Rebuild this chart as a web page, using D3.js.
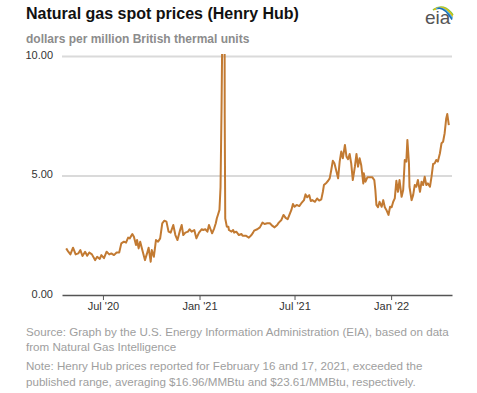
<!DOCTYPE html>
<html>
<head>
<meta charset="utf-8">
<script src="https://cdn.jsdelivr.net/npm/d3@7"></script>
<style>
  body { margin: 0; background: #fff; }
  text { font-family: "Liberation Sans", Arial, sans-serif; }
</style>
</head>
<body>
<svg id="chart" width="477" height="393"></svg>
<script>
// Henry Hub spot price, $/MMBtu
var dates = ["2020-04-22","2020-04-26","2020-04-30","2020-05-05","2020-05-10","2020-05-15","2020-05-19","2020-05-23","2020-05-28","2020-06-01",
  "2020-06-05","2020-06-10","2020-06-16","2020-06-20","2020-06-25","2020-06-28","2020-07-03","2020-07-08","2020-07-13","2020-07-17",
  "2020-07-22","2020-07-27","2020-08-01","2020-08-05","2020-08-10","2020-08-14","2020-08-18","2020-08-21","2020-08-26","2020-08-29",
  "2020-09-02","2020-09-04","2020-09-07","2020-09-10","2020-09-14","2020-09-19","2020-09-23","2020-09-26","2020-09-30","2020-10-02",
  "2020-10-06","2020-10-10","2020-10-14","2020-10-18","2020-10-22","2020-10-26","2020-10-30","2020-11-03","2020-11-07","2020-11-12",
  "2020-11-16","2020-11-20","2020-11-25","2020-11-28","2020-12-01","2020-12-05","2020-12-10","2020-12-13","2020-12-17","2020-12-22",
  "2020-12-26","2020-12-31","2021-01-05","2021-01-08","2021-01-12","2021-01-16","2021-01-19","2021-01-22","2021-01-25","2021-01-29",
  "2021-02-01","2021-02-03","2021-02-05","2021-02-08","2021-02-10","2021-02-12","2021-02-16","2021-02-17","2021-02-18","2021-02-19",
  "2021-02-22","2021-02-25","2021-02-26","2021-03-03","2021-03-06","2021-03-08","2021-03-12","2021-03-17","2021-03-22","2021-03-24",
  "2021-03-30","2021-04-05","2021-04-10","2021-04-13","2021-04-15","2021-04-21","2021-04-26","2021-05-01","2021-05-05","2021-05-10",
  "2021-05-15","2021-05-20","2021-05-24","2021-05-29","2021-06-01","2021-06-06","2021-06-10","2021-06-14","2021-06-18","2021-06-25",
  "2021-06-28","2021-07-01","2021-07-05","2021-07-10","2021-07-14","2021-07-19","2021-07-22","2021-07-25","2021-07-29","2021-08-01",
  "2021-08-04","2021-08-09","2021-08-13","2021-08-17","2021-08-21","2021-08-24","2021-08-26","2021-08-31","2021-09-03","2021-09-06",
  "2021-09-09","2021-09-12","2021-09-15","2021-09-19","2021-09-22","2021-09-25","2021-09-28","2021-10-01","2021-10-05","2021-10-08",
  "2021-10-11","2021-10-14","2021-10-17","2021-10-20","2021-10-24","2021-10-27","2021-10-30","2021-11-02","2021-11-05","2021-11-09",
  "2021-11-10","2021-11-13","2021-11-17","2021-11-21","2021-11-26","2021-11-30","2021-12-02","2021-12-04","2021-12-07","2021-12-10",
  "2021-12-14","2021-12-17","2021-12-20","2021-12-23","2021-12-27","2021-12-30","2022-01-02","2022-01-05","2022-01-08","2022-01-11",
  "2022-01-14","2022-01-17","2022-01-21","2022-01-24","2022-01-27","2022-01-30","2022-02-01","2022-02-04","2022-02-05","2022-02-09",
  "2022-02-12","2022-02-15","2022-02-18","2022-02-21","2022-02-25","2022-02-28","2022-03-03","2022-03-06","2022-03-09","2022-03-12",
  "2022-03-16","2022-03-19","2022-03-22","2022-03-25","2022-03-28","2022-03-31","2022-04-04","2022-04-07","2022-04-10","2022-04-13",
  "2022-04-16","2022-04-18","2022-04-21"];
var prices = [1.95,1.81,1.70,1.98,1.70,1.74,1.88,1.63,1.81,1.64,
  1.78,1.70,1.46,1.60,1.51,1.67,1.54,1.81,1.70,1.74,
  1.67,1.78,1.78,2.16,2.23,2.19,2.40,2.37,2.55,2.44,
  2.09,2.30,1.95,2.23,1.88,1.46,1.74,1.98,1.39,1.88,
  1.60,2.30,2.23,2.37,3.00,3.11,3.07,2.65,2.61,2.93,
  2.51,2.30,2.72,2.93,2.51,2.61,2.65,2.75,2.65,2.72,
  2.37,2.61,2.75,2.72,2.75,2.65,2.93,2.75,2.58,2.79,
  3.00,3.21,3.35,3.56,4.50,7.90,16.96,23.61,7.50,3.20,
  2.86,2.86,2.72,2.65,2.72,2.61,2.65,2.51,2.55,2.48,
  2.48,2.40,2.51,2.61,2.69,2.75,2.83,3.03,2.97,3.00,
  3.00,2.89,2.83,2.93,3.03,3.14,3.35,3.23,3.17,3.56,
  3.81,3.69,3.77,3.72,3.84,3.97,4.21,4.09,4.18,3.93,
  3.97,3.90,4.04,3.95,4.00,4.32,4.60,4.70,4.78,4.88,
  5.23,5.62,5.51,5.16,4.88,5.58,6.00,5.72,6.28,5.79,
  5.68,5.90,5.51,4.81,5.37,5.90,5.37,5.72,5.44,4.67,
  5.09,4.74,4.93,4.93,4.93,4.81,4.39,3.77,3.67,3.90,
  3.69,3.97,3.67,3.56,3.35,3.69,3.67,3.90,4.04,4.78,
  4.32,4.81,4.11,4.39,5.65,5.58,6.49,5.51,4.53,3.97,
  4.18,4.60,4.53,4.81,4.32,4.74,4.60,4.95,4.60,4.67,
  4.53,4.95,5.48,5.51,5.65,5.58,5.93,6.35,6.41,6.77,
  7.39,7.57,7.11];
var yTicks = [0, 5, 10];
var xTicks = ["2020-07-01", "2021-01-01", "2021-07-01", "2022-01-01"];
var xDomain = ["2020-04-14", "2022-04-27"];

var svg = d3.select("#chart");
var parse = d3.timeParse("%Y-%m-%d");
var plotLeft = 62, plotRight = 452, plotTop = 56, plotBottom = 295;

var x = d3.scaleTime().domain(xDomain.map(parse)).range([plotLeft, plotRight]);
var y = d3.scaleLinear().domain([0, 10]).range([plotBottom, plotTop]);

var data = dates.map(function(d, i) { return {date: parse(d), value: prices[i]}; });

// titles
svg.append("text").attr("x", 26).attr("y", 19)
  .attr("font-size", 16).attr("font-weight", "bold").attr("fill", "#111")
  .text("Natural gas spot prices (Henry Hub)");
svg.append("text").attr("x", 26).attr("y", 43)
  .attr("font-size", 12).attr("font-weight", "bold").attr("fill", "#8c8c8c")
  .text("dollars per million British thermal units");

// eia logo
var logo = svg.append("g").attr("transform", "translate(424,0)");
logo.append("text").attr("x", 1).attr("y", 24)
  .attr("font-family", "'Liberation Serif', 'DejaVu Serif', serif")
  .attr("font-size", 19).attr("fill", "#555").text("eia");
var arcs = ["#8cc63f", "#f2c200", "#5bb6e4", "#1a6fb5"];
arcs.forEach(function(c, i) {
  logo.append("path")
    .attr("d", "M" + (9 + i * 1.5) + "," + (10 - i * 0.5) + " Q20," + (2 + i * 1.5) + " " + (29 - i * 0.3) + "," + (15 + i * 1.5))
    .attr("fill", "none").attr("stroke", c).attr("stroke-width", 1.6);
});

// gridlines + y labels
var yAxis = svg.append("g").attr("transform", "translate(" + plotLeft + ",0)")
  .call(d3.axisLeft(y).tickValues(yTicks).tickSize(-(plotRight - plotLeft)).tickPadding(9)
    .tickFormat(d3.format(".2f")));
yAxis.select(".domain").remove();
yAxis.selectAll(".tick line").attr("stroke", "#dadada").attr("stroke-width", 2)
  .filter(function(d) { return d === 0; }).remove();
yAxis.selectAll(".tick text").attr("font-size", 11).attr("fill", "#333")
  .attr("font-family", "'Liberation Sans', Arial, sans-serif").attr("dy", "0.2em");

// x axis
var xAxis = svg.append("g").attr("transform", "translate(0," + plotBottom + ")")
  .call(d3.axisBottom(x).tickValues(xTicks.map(parse)).tickSize(5).tickSizeOuter(0)
    .tickPadding(2).tickFormat(d3.timeFormat("%b '%y")));
xAxis.select(".domain").attr("stroke", "#555").attr("stroke-width", 1.5);
xAxis.selectAll(".tick line").attr("stroke", "#555");
xAxis.selectAll(".tick text").attr("font-size", 11).attr("fill", "#333")
  .attr("font-family", "'Liberation Sans', Arial, sans-serif");

// price line, clipped to the published range
svg.append("clipPath").attr("id", "plot")
  .append("rect").attr("x", plotLeft).attr("y", plotTop - 2)
  .attr("width", plotRight - plotLeft).attr("height", plotBottom - plotTop + 2);
svg.append("path").datum(data)
  .attr("clip-path", "url(#plot)")
  .attr("fill", "none").attr("stroke", "#c27a32").attr("stroke-width", 2)
  .attr("stroke-linejoin", "round")
  .attr("d", d3.line().x(function(d) { return x(d.date); }).y(function(d) { return y(d.value); }));

// notes
var notes = [
  ["Source: Graph by the U.S. Energy Information Administration (EIA), based on data", 336],
  ["from Natural Gas Intelligence", 351],
  ["Note: Henry Hub prices reported for February 16 and 17, 2021, exceeded the", 370],
  ["published range, averaging $16.96/MMBtu and $23.61/MMBtu, respectively.", 386]
];
svg.selectAll("text.note").data(notes).enter().append("text")
  .attr("class", "note").attr("x", 26).attr("y", function(d) { return d[1]; })
  .attr("font-size", 11.6).attr("fill", "#9e9e9e")
  .text(function(d) { return d[0]; });
</script>
</body>
</html>
